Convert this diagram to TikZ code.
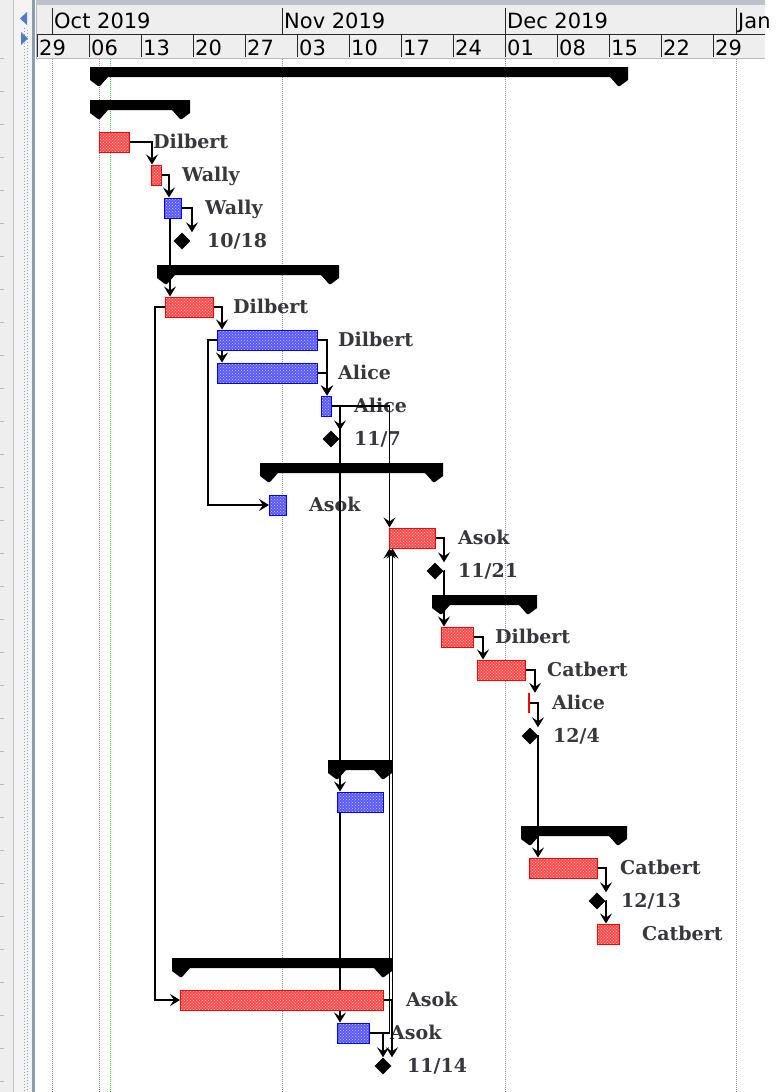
\documentclass[tikz,border=0pt]{standalone}
\usepackage{fontspec}
\newfontfamily\hdrfont{DejaVu Sans}
\newfontfamily\lblfont{DejaVu Serif}
\usetikzlibrary{arrows.meta,shapes.geometric,patterns}

\definecolor{taskred}{RGB}{255,0,0}
\definecolor{taskblue}{RGB}{0,0,255}
\definecolor{hdrbg}{RGB}{238,238,238}
\definecolor{hdrdark}{RGB}{40,40,40}
\definecolor{hdrsoft}{RGB}{185,185,185}
\definecolor{topbar}{RGB}{190,194,200}
\definecolor{lbl}{RGB}{55,55,60}
\definecolor{gridgray}{RGB}{140,140,140}
\definecolor{today}{RGB}{40,220,40}
\definecolor{navblue}{RGB}{80,125,195}
\definecolor{strip}{RGB}{140,155,175}
\definecolor{panelgray}{RGB}{238,238,238}
\definecolor{panellight}{RGB}{244,244,244}
\definecolor{panelline}{RGB}{190,195,200}
\definecolor{dotcol}{RGB}{150,160,175}

\pgfdeclarelayer{bg}
\pgfdeclarelayer{labels}
\pgfdeclarelayer{lines}
\pgfsetlayers{bg,labels,lines,main}

% one task bar: name, style, start x, end x, row
\newcommand\gtask[5]{%
  \pgfmathsetmacro\gw{#4-#3}\pgfmathsetmacro\gy{76+33*#5}%
  \node[#2, minimum width=\gw pt] (#1) at (#3,\gy) {};}
% summary bar with its two feet: start x, end x, row
\newcommand\gsum[3]{%
  \pgfmathsetmacro\gt{67+33*#3}\pgfmathsetmacro\gb{77+33*#3}%
  \fill[summary] (#1,\gt) -- (#2,\gt) -- (#2,\gb+3) -- (#2-8,\gb+9) -- (#2-10,\gb+9)
    -- (#2-18,\gb) -- (#1+18,\gb) -- (#1+10,\gb+9) -- (#1+8,\gb+9) -- (#1,\gb+3) -- cycle;}
% milestone diamond: name, x, row
\newcommand\gmile[3]{\node[milestone] (#1) at (#2,76+33*#3) {};}
% task label: name, x, row, text
\newcommand\glabel[4]{\node[lbltext] (#1) at (#2,82.5+33*#3) {#4};}

\begin{document}
\begin{tikzpicture}[x=1pt,y=-1pt,
  redtask/.style={draw=taskred, line width=1pt, preaction={fill=red!70!white},
    pattern=crosshatch dots, pattern color=white!80!red, minimum height=20pt,
    inner sep=0pt, anchor=west},
  bluetask/.style={draw=taskblue, line width=1pt, preaction={fill=blue!65!white},
    pattern=crosshatch dots, pattern color=white!80!blue, minimum height=20pt,
    inner sep=0pt, anchor=west},
  redmark/.style={fill=taskred, minimum height=20pt, inner sep=0pt, anchor=west},
  summary/.style={fill=black},
  milestone/.style={diamond, fill=black, inner sep=0pt, minimum width=17pt,
    minimum height=17pt},
  lbltext/.style={text=lbl, inner sep=0pt, anchor=base west,
    font=\lblfont\bfseries\fontsize{19}{22}\selectfont},
  hdrtext/.style={text=black, inner sep=0pt, anchor=base west,
    font=\hdrfont\fontsize{21}{24}\selectfont},
  conn/.style={draw=black, line width=1.2pt,
    -{Stealth[length=10pt,width=12pt,inset=4pt]}},
  gridline/.style={draw=gridgray, line width=1pt, dash pattern=on 1pt off 1pt},
]
\useasboundingbox (0,0) rectangle (781,1092);

\begin{pgfonlayer}{bg}
\fill[white] (0,0) rectangle (781,1092);

% ---- left panel strip ----
\fill[panelgray] (0,0) rectangle (13,1092);
\foreach \k in {0,...,31} \draw[hdrsoft, line width=1pt] (0,58+33*\k) -- (4,58+33*\k);
\draw[panelline, line width=1pt] (13.5,0) -- (13.5,1092);
\fill[panellight] (14,0) rectangle (32,1092);
\draw[dotcol, line width=1pt, dash pattern=on 1pt off 2pt] (24,28) -- (24,1092);
\draw[dotcol, line width=1pt, dash pattern=on 1pt off 2pt, dash phase=1.5pt] (27.5,28) -- (27.5,1092);
\fill[strip] (32,0) rectangle (35,1092);
\fill[navblue] (27,12) -- (27,25) -- (20,18.5) -- cycle;
\fill[navblue] (21,32) -- (21,45) -- (28,38.5) -- cycle;

% ---- timeline header ----
\fill[topbar] (36,0) rectangle (765,5);
\fill[hdrbg] (36,5) rectangle (765,58);
\draw[hdrdark, line width=1pt] (36,34.5) -- (765,34.5);
\draw[hdrsoft, line width=1pt] (36,58) -- (765,58);
\draw[hdrsoft, line width=1pt] (36.5,5) -- (36.5,58);
\foreach \mx/\mt [count=\i] in {52/Oct 2019,282/Nov 2019,505/Dec 2019,736/Jan} {
  \draw[hdrdark, line width=1pt] (\mx,8) -- (\mx,34);
  \node[hdrtext] (month\i) at (\mx+2,28) {\mt};
}
\foreach \dd [count=\k from 0] in {29,06,13,20,27,03,10,17,24,01,08,15,22,29} {
  \draw[hdrdark, line width=1pt] (37+52*\k,35) -- (37+52*\k,57);
  \node[hdrtext] (day\k) at (39+52*\k,55) {\dd};
}

% ---- grid lines ----
\foreach \gx in {52,99,282,505,736} \draw[gridline] (\gx,59) -- (\gx,1092);
\draw[gridline, draw=today] (110,59) -- (110,1092);
\end{pgfonlayer}

% ---- labels ----
\begin{pgfonlayer}{labels}
\glabel{l2}{153}{2}{Dilbert}
\glabel{l3}{182}{3}{Wally}
\glabel{l4}{205}{4}{Wally}
\glabel{l5}{207}{5}{10/18}
\glabel{l7}{233}{7}{Dilbert}
\glabel{l8}{338}{8}{Dilbert}
\glabel{l9}{338}{9}{Alice}
\glabel{l10}{354}{10}{Alice}
\glabel{l11}{354}{11}{11/7}
\glabel{l13}{309}{13}{Asok}
\glabel{l14}{458}{14}{Asok}
\glabel{l15}{458}{15}{11/21}
\glabel{l17}{495}{17}{Dilbert}
\glabel{l18}{547}{18}{Catbert}
\glabel{l19}{552}{19}{Alice}
\glabel{l20}{553}{20}{12/4}
\glabel{l24}{620}{24}{Catbert}
\glabel{l25}{621}{25}{12/13}
\glabel{l26}{642}{26}{Catbert}
\glabel{l28}{406}{28}{Asok}
\glabel{l29}{390}{29}{Asok}
\glabel{l30}{407}{30}{11/14}
\end{pgfonlayer}

% ---- summary bars ----
\gsum{90}{628}{0}
\gsum{90}{190}{1}
\gsum{157}{339}{6}
\gsum{260}{443}{12}
\gsum{432}{537}{16}
\gsum{328}{392}{21}
\gsum{521}{627}{23}
\gsum{172}{392}{27}

% ---- tasks and milestones ----
\gtask{t2}{redtask}{99}{129}{2}
\gtask{t3}{redtask}{151}{161}{3}
\gtask{t4}{bluetask}{164}{181}{4}
\gmile{m5}{182}{5}
\gtask{t7}{redtask}{165}{213}{7}
\gtask{t8}{bluetask}{217}{317}{8}
\gtask{t9}{bluetask}{217}{317}{9}
\gtask{t10}{bluetask}{321}{331}{10}
\gmile{m11}{331}{11}
\gtask{t13}{bluetask}{269}{286}{13}
\gtask{t14}{redtask}{389}{435}{14}
\gmile{m15}{435}{15}
\gtask{t17}{redtask}{441}{473}{17}
\gtask{t18}{redtask}{477}{525}{18}
\gtask{t19}{redmark}{528}{530}{19}
\gmile{m20}{530}{20}
\gtask{t22}{bluetask}{337}{383}{22}
\gtask{t24}{redtask}{529}{597}{24}
\gmile{m25}{597}{25}
\gtask{t26}{redtask}{597}{619}{26}
\gtask{t28}{redtask}{180}{383}{28}
\gtask{t29}{bluetask}{337}{369}{29}
\gmile{m30}{383}{30}

% ---- dependency connectors, under the bars ----
\begin{pgfonlayer}{lines}
\draw[conn] (t2.east) -| ([xshift=1pt]t3.north west);
\draw[conn] (t3.east) -| ([xshift=5pt]t4.north west);
\draw[conn] (t4.east) -| ([xshift=10pt]m5.north);
\draw[conn] ([xshift=6pt]t4.south west) -- ([xshift=5pt]t7.north west);
\draw[conn] (t7.west) -- ++(-10,0) |- (t28.west);
\draw[conn] (t7.east) -| ([xshift=5pt]t8.north west);
\draw[conn] (t8.west) -- ++(-9,0) |- (t13.west);
\draw[conn] ([xshift=5pt]t8.south west) -- ([xshift=5pt]t9.north west);
\draw[conn] (t8.east) -| ([xshift=6pt]t10.north west);
\draw[conn] (t9.east) -| ([xshift=6pt]t10.north west);
\draw[conn] (t10.east) -| ([xshift=9pt]m11.north);
\draw[conn] (t10.east) -| ([xshift=3pt]t22.north west);
\draw[conn] (t10.east) -| ([xshift=0.5pt]t14.north west);
\draw[conn] ([xshift=3pt]t22.south west) -- ([xshift=3pt]t29.north west);
\draw[conn] (t28.east) -| ([xshift=3.5pt]t14.south west);
\draw[conn] (t29.east) -| ([xshift=0.5pt]t14.south west);
\draw[conn] (t28.east) -| ([xshift=9pt]m30.north);
\draw[conn] (t29.east) -| (m30.north);
\draw[conn] (t14.east) -| ([xshift=9pt]m15.north);
\draw[conn] (m15.east) -| ([xshift=3pt]t17.north west);
\draw[conn] (t17.east) -| ([xshift=6pt]t18.north west);
\draw[conn] (t18.east) -| ([xshift=7pt]t19.north west);
\draw[conn] (t19.east) -| ([xshift=8pt]m20.north);
\draw[conn] (m20.east) -| ([xshift=9pt]t24.north west);
\draw[conn] (t24.east) -| ([xshift=9pt]m25.north);
\draw[conn] (m25.east) -| ([xshift=9pt]t26.north west);
\end{pgfonlayer}
\end{tikzpicture}
\end{document}
